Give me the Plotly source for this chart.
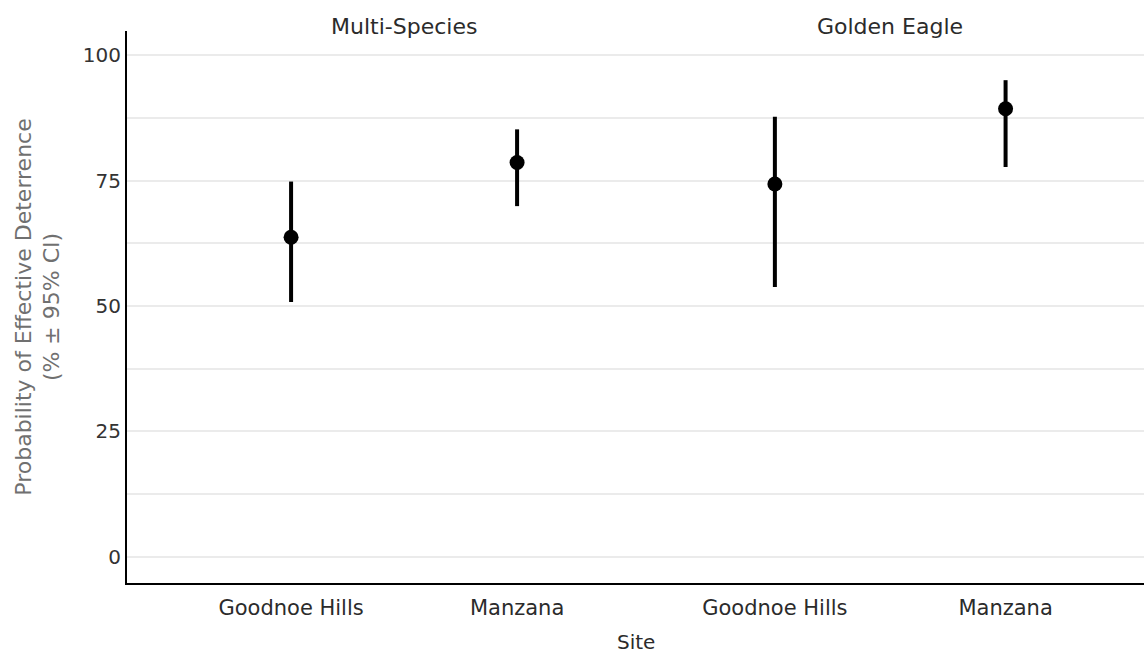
import plotly.graph_objects as go
from plotly.subplots import make_subplots

sites = ["Goodnoe Hills", "Manzana"]
groups = ["Multi-Species", "Golden Eagle"]
estimate = {"Multi-Species": [63.7, 78.6], "Golden Eagle": [74.3, 89.3]}
lower = {"Multi-Species": [50.8, 69.9], "Golden Eagle": [53.8, 77.7]}
upper = {"Multi-Species": [74.8, 85.2], "Golden Eagle": [87.7, 95.0]}
y_ticks = [0, 25, 50, 75, 100]

FONT = "DejaVu Sans"
TXT = "#2b2b2b"
fig = make_subplots(rows=1, cols=2, shared_yaxes=True, horizontal_spacing=0)

for i, g in enumerate(groups):
    est = estimate[g]
    up = [u - e for u, e in zip(upper[g], est)]
    dn = [e - l for e, l in zip(est, lower[g])]
    fig.add_trace(go.Scatter(
        x=sites, y=est, mode="markers",
        marker=dict(symbol="circle", size=15, color="black"),
        error_y=dict(type="data", symmetric=False, array=up, arrayminus=dn,
                     thickness=4, width=0, color="black"),
        showlegend=False), row=1, col=i + 1)

split = (645 - 127) / 1017
fig.update_layout(
    width=1144, height=655,
    margin=dict(l=127, r=0, t=31, b=72),
    paper_bgcolor="white", plot_bgcolor="white",
    font=dict(family=FONT, color=TXT),
    xaxis=dict(domain=[0, split], range=[-0.726, 1.566]),
    xaxis2=dict(domain=[split, 1], range=[-0.563, 1.6]),
)
for ax in ["xaxis", "xaxis2"]:
    fig.layout[ax].update(showgrid=False, zeroline=False, showline=True,
                          linecolor="black", linewidth=2, ticks="",
                          tickfont=dict(size=21, color=TXT, family=FONT),
                          ticklabelstandoff=5)
fig.update_yaxes(range=[-5.2, 104.8], tickvals=y_ticks, showgrid=True,
                 gridcolor="#ebebeb", gridwidth=1.5, zeroline=False,
                 minor=dict(dtick=12.5, tick0=0, showgrid=True, gridcolor="#ebebeb", gridwidth=1.5),
                 ticks="", tickfont=dict(size=20, color="#333333", family=FONT))
fig.layout.yaxis.update(showline=True, linecolor="black", linewidth=2,
                        title=dict(text="Probability of Effective Deterrence<br>(% ± 95% CI)",
                                   font=dict(size=22, color="#707070", family=FONT), standoff=17))
fig.layout.yaxis2.update(showline=False, showticklabels=False)

for i, g in enumerate(groups):
    fig.add_annotation(x=0.5, y=1, xref="x" if i == 0 else "x2", yref="paper", text=g,
                       showarrow=False, yanchor="middle", yshift=5,
                       font=dict(size=22, color=TXT, family=FONT))
fig.add_annotation(x=0.5, y=0, xref="paper", yref="paper", text="Site",
                   showarrow=False, yanchor="middle", yshift=-59,
                   font=dict(size=20, color=TXT, family=FONT))

fig.write_html("out.html")
